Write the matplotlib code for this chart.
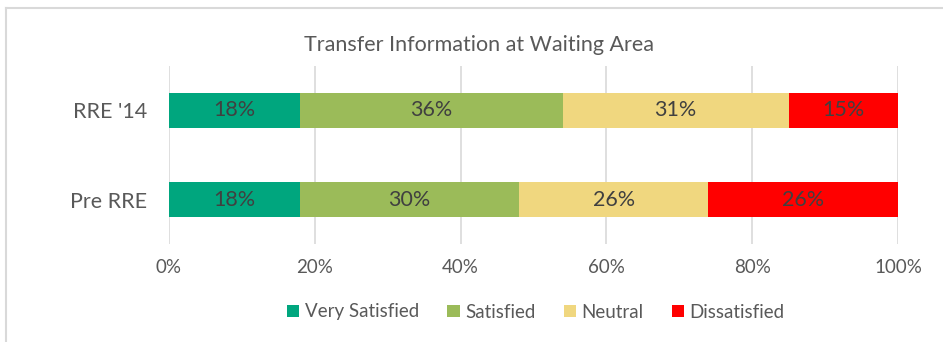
import matplotlib
matplotlib.use("Agg")
import matplotlib.pyplot as plt
from matplotlib.lines import Line2D
from matplotlib.patches import Patch

# survey results, share of respondents
groups = ["Pre RRE", "RRE '14"]
levels = ["Very Satisfied", "Satisfied", "Neutral", "Dissatisfied"]
very_satisfied = [18, 18]
satisfied = [30, 36]
neutral = [26, 31]
dissatisfied = [26, 15]
xticks = [0, 20, 40, 60, 80, 100]

colors = ["#00A67E", "#9BBB59", "#F0D77F", "#FF0000"]
series = [very_satisfied, satisfied, neutral, dissatisfied]

plt.rcParams['font.family'] = ['Lato', 'DejaVu Sans']

W, H = 943, 342
fig = plt.figure(figsize=(W / 100, H / 100), dpi=100)
ax = fig.add_axes([169 / W, 1 - 244 / H, (898 - 169) / W, (244 - 66) / H])

left = [0, 0]
for vals, c in zip(series, colors):
    ax.barh(groups, vals, left=left, height=0.39, color=c, zorder=3)
    for i, v in enumerate(vals):
        ax.text(left[i] + v / 2, i, f"{v}%", ha="center", va="center",
                fontsize=15.5, color="#404040", zorder=4)
    left = [l + v for l, v in zip(left, vals)]

ax.set_xlim(0, 100)
ax.set_ylim(-0.5, 1.5)
ax.set_xticks(xticks)
ax.set_xticklabels([f"{t}%" for t in xticks], fontsize=13.5, color="#595959")
ax.tick_params(axis="x", length=0, pad=11)
ax.tick_params(axis="y", length=0, pad=16, labelsize=15.5, labelcolor="#595959")
ax.grid(axis="x", color="#D9D9D9", linewidth=1.2, zorder=0)
for s in ax.spines.values():
    s.set_visible(False)

fig.text(479 / W, 1 - 45 / H, "Transfer Information at Waiting Area",
         ha="center", va="center", fontsize=15.5, color="#595959")

handles = [Patch(facecolor=c, label=l) for c, l in zip(colors, levels)]
fig.legend(handles=handles, loc="center", bbox_to_anchor=(536 / W, 1 - 312 / H),
           ncol=4, frameon=False, fontsize=13.5, handlelength=0.65, handleheight=0.65,
           handletextpad=0.3, columnspacing=1.5, labelcolor="#595959")

# outer chart frame
fig.add_artist(Line2D([6 / W, 1], [1 - 8 / H, 1 - 8 / H], color="#D9D9D9", lw=1.5))
fig.add_artist(Line2D([6 / W, 6 / W], [0, 1 - 8 / H], color="#D9D9D9", lw=1.5))

fig.savefig("out.png", dpi=100)
